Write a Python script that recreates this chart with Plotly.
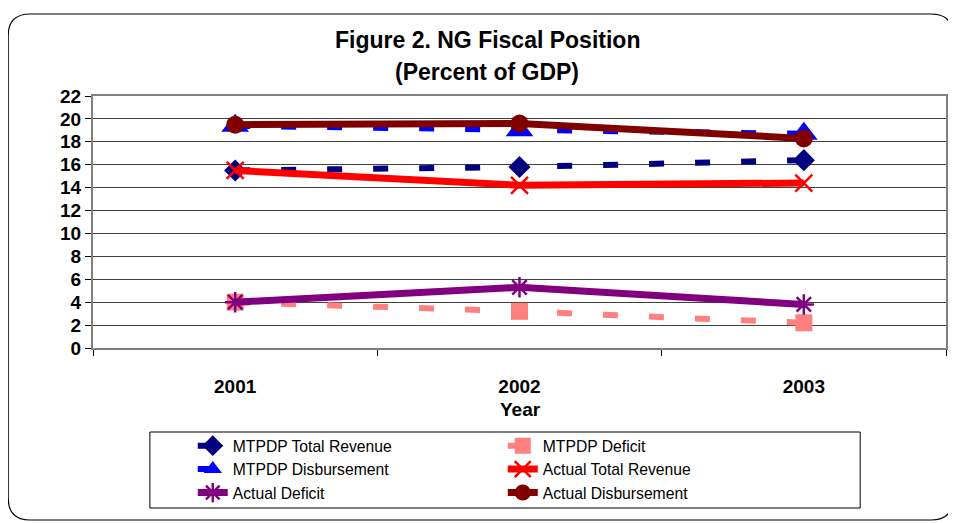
import plotly.graph_objects as go

years = ["2001", "2002", "2003"]
mtpdp_total_revenue = [15.5, 15.8, 16.4]
mtpdp_deficit = [4.0, 3.2, 2.2]
mtpdp_disbursement = [19.4, 19.0, 18.7]
actual_total_revenue = [15.5, 14.2, 14.4]
actual_deficit = [4.0, 5.3, 3.8]
actual_disbursement = [19.5, 19.6, 18.3]
y_ticks = list(range(0, 23, 2))

FONT = "Liberation Sans, Arial, sans-serif"
DASH = "15px,31px"

fig = go.Figure()
fig.add_trace(go.Scatter(x=years, y=mtpdp_total_revenue, name="MTPDP Total Revenue", mode="lines+markers",
                         line=dict(color="#000080", width=6, dash=DASH),
                         marker=dict(symbol="diamond", size=17, color="#000080")))
fig.add_trace(go.Scatter(x=years, y=mtpdp_deficit, name="MTPDP Deficit", mode="lines+markers",
                         line=dict(color="#FF8080", width=6, dash=DASH),
                         marker=dict(symbol="square", size=17, color="#FF8080")))
fig.add_trace(go.Scatter(x=years, y=mtpdp_disbursement, name="MTPDP Disbursement", mode="lines+markers",
                         line=dict(color="#0000FF", width=6, dash=DASH),
                         marker=dict(symbol="triangle-up", size=24, color="#0000FF")))
fig.add_trace(go.Scatter(x=years, y=actual_total_revenue, name="Actual Total Revenue", mode="lines+markers",
                         line=dict(color="#FF0000", width=7),
                         marker=dict(symbol="x-thin-open", size=17, color="#FF0000", line=dict(width=2.5, color="#FF0000"))))
fig.add_trace(go.Scatter(x=years, y=actual_deficit, name="Actual Deficit", mode="lines+markers",
                         line=dict(color="#800080", width=7),
                         marker=dict(symbol="asterisk-open", size=17, color="#800080", line=dict(width=2.5, color="#800080"))))
fig.add_trace(go.Scatter(x=years, y=actual_disbursement, name="Actual Disbursement", mode="lines+markers",
                         line=dict(color="#800000", width=7),
                         marker=dict(symbol="circle", size=18, color="#800000")))

# target-frame pixel geometry (page body adds an 8px offset)
OFF = 8
L, R, T, B = 93, 948, 96, 348
W, H = 956, 523
pw, ph = R - L, B - T

def px(x):
    return (x - L) / pw

def py(y):
    return (B - y) / ph

# rounded outer border
x0, x1, y0, y1 = px(8), px(955), py(520), py(14)
rx, ry = 22 / pw, 22 / ph
path = (f"M {x0+rx},{y1} L {x1-rx},{y1} Q {x1},{y1} {x1},{y1-ry} "
        f"L {x1},{y0+ry} Q {x1},{y0} {x1-rx},{y0} L {x0+rx},{y0} Q {x0},{y0} {x0},{y0+ry} "
        f"L {x0},{y1-ry} Q {x0},{y1} {x0+rx},{y1} Z")

fig.update_layout(
    width=W - OFF, height=H - OFF,
    margin=dict(l=L - OFF, r=W - R, t=T - OFF, b=H - B, pad=0),
    paper_bgcolor="white", plot_bgcolor="white",
    font=dict(family=FONT, color="black"),
    showlegend=True,
    legend=dict(orientation="h", x=px(193), y=py(429), xanchor="left", yanchor="top",
                entrywidth=265, entrywidthmode="pixels", font=dict(size=15.7, family=FONT),
                bgcolor="rgba(0,0,0,0)", borderwidth=0, tracegroupgap=0),
    shapes=[
        dict(type="path", xref="paper", yref="paper", path=path, line=dict(color="black", width=1.2), layer="below"),
        dict(type="rect", xref="paper", yref="paper", x0=px(150), x1=px(862), y0=py(508), y1=py(432),
             line=dict(color="black", width=1)),
    ],
    annotations=[
        dict(text="<b>Figure 2. NG Fiscal Position</b>", xref="paper", yref="paper", x=px(488), y=py(40),
             showarrow=False, font=dict(size=23, family=FONT), xanchor="center", yanchor="middle"),
        dict(text="<b>(Percent of GDP)</b>", xref="paper", yref="paper", x=px(488), y=py(72),
             showarrow=False, font=dict(size=23, family=FONT), xanchor="center", yanchor="middle"),
        dict(text="<b>Year</b>", xref="paper", yref="paper", x=px(522), y=py(409),
             showarrow=False, font=dict(size=19, family=FONT), xanchor="center", yanchor="middle"),
    ],
)

fig.update_xaxes(type="category", range=[-0.5, 2.5], tickson="boundaries", ticks="outside", ticklen=6,
                 tickcolor="black", showline=True, linecolor="#808080", linewidth=2, mirror=True,
                 showgrid=False, tickfont=dict(size=19, family=FONT), ticklabelstandoff=20,
                 tickprefix="<b>", ticksuffix="</b>")
fig.update_yaxes(range=[0, 22], tickvals=y_ticks, ticktext=[f"<b>{v}</b>" for v in y_ticks],
                 ticks="outside", ticklen=6, tickcolor="black", showline=True, linecolor="#808080",
                 linewidth=2, mirror=True, showgrid=True, gridcolor="#404040", gridwidth=1,
                 zeroline=False, tickfont=dict(size=19, family=FONT))

fig.write_html("out.html")
